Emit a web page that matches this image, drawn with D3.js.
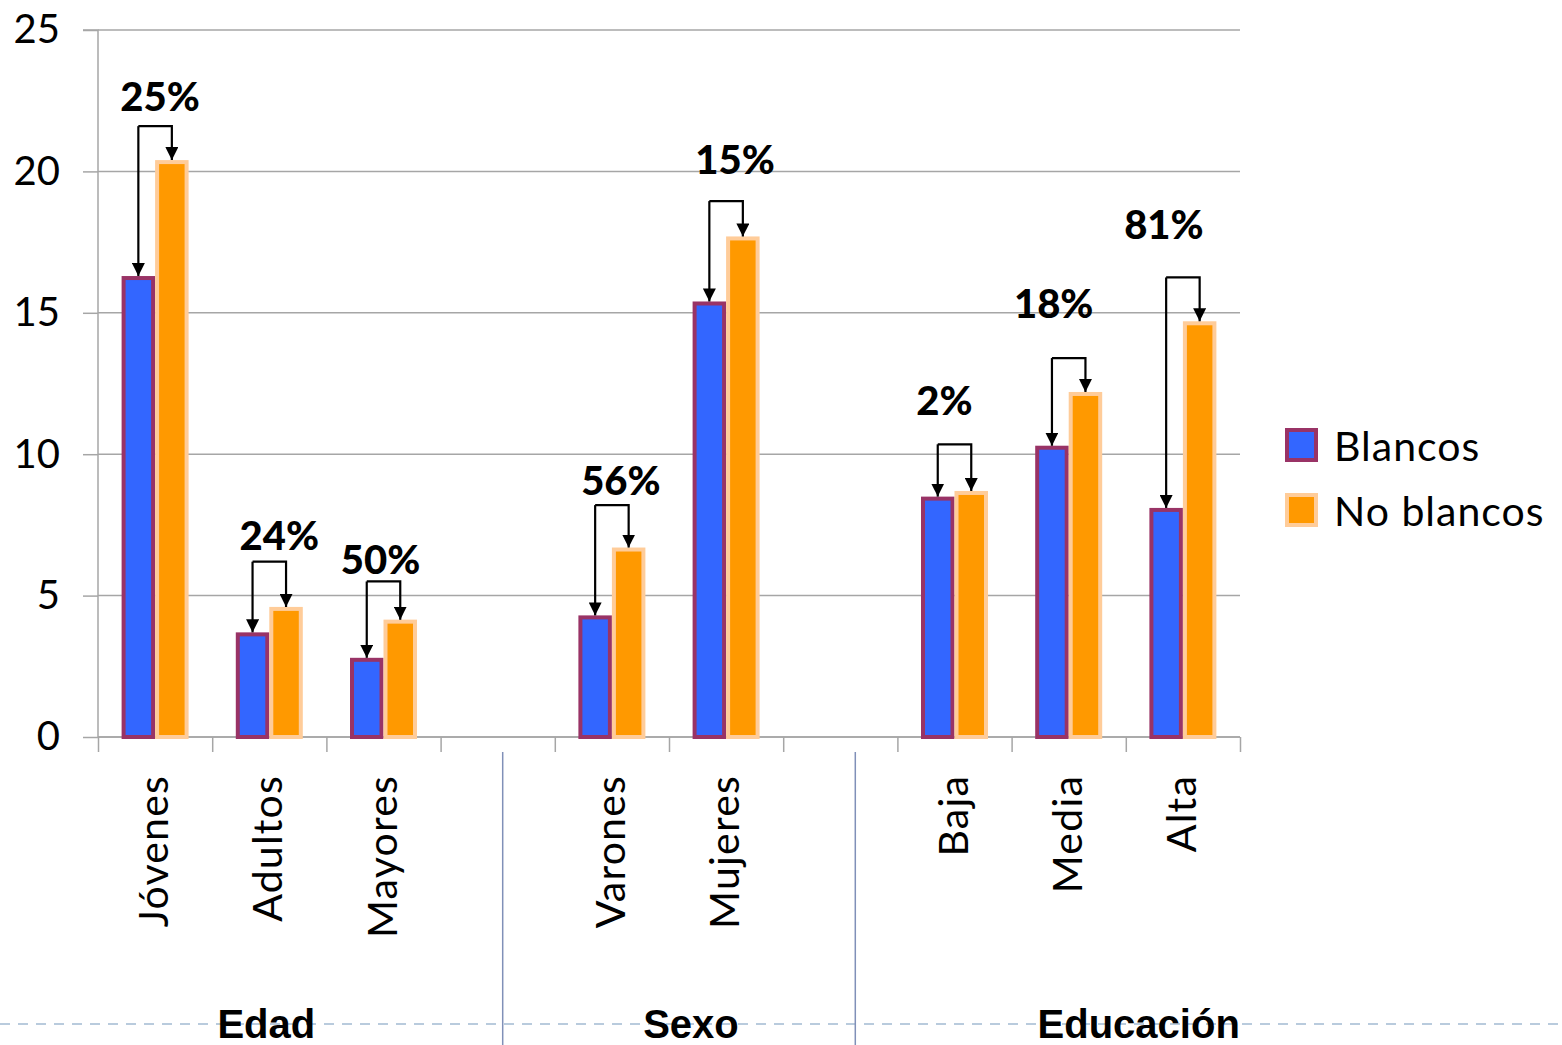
<!DOCTYPE html>
<html>
<head>
<meta charset="utf-8">
<script src="https://cdn.jsdelivr.net/npm/d3@7"></script>
<style>
  body { margin: 0; background: #fff; }
  svg { display: block; }
</style>
</head>
<body>
<svg id="chart" width="1562" height="1045"></svg>
<script>
// categories in plot order ('' marks an empty slot between groups)
const categories = ['Jóvenes', 'Adultos', 'Mayores', '', 'Varones', 'Mujeres', '', 'Baja', 'Media', 'Alta'];
const blancos    = [16.3, 3.7, 2.8, null, 4.3, 15.4, null, 8.5, 10.3, 8.1];
const noBlancos  = [20.4, 4.6, 4.15, null, 6.7, 17.7, null, 8.7, 12.2, 14.7];
const gapLabels  = ['25%', '24%', '50%', null, '56%', '15%', null, '2%', '18%', '81%'];
// height (in chart units) of each bracket and of its label baseline
const bracketLevel = [21.6, 6.2, 5.5, null, 8.2, 18.95, null, 10.35, 13.4, 16.25];
const labelLevel   = [22.15, 6.6, 5.75, null, 8.55, 19.9, null, 11.4, 14.8, 17.6];
const groups = [
  { name: 'Edad', first: 0, last: 2 },
  { name: 'Sexo', first: 4, last: 5 },
  { name: 'Educación', first: 7, last: 9 }
];
const seriesNames = ['Blancos', 'No blancos'];
const yTicks = [0, 5, 10, 15, 20, 25];

const svg = d3.select('#chart');
const plot = { left: 98, right: 1240, top: 30, bottom: 737 };
const font = 'Lato, "Gill Sans", "Noto Sans", sans-serif';

// hand placed nudges of the text boxes (px)
const labelNudge = [5, 10, -3, 0, 9, 9, 0, -10, -15, -19];
const groupNudge = [-3, 22, 70];

// scales
const keys = categories.map((c, i) => i);
const x = d3.scaleBand().domain(keys).range([plot.left, plot.right]).paddingInner(0).paddingOuter(0);
const slot = d3.scaleLinear().domain([0, categories.length]).range([plot.left, plot.right]);
const y = d3.scaleLinear().domain([0, 25]).range([plot.bottom, plot.top]);
const colors = { fill: ['#3366ff', '#ff9900'], stroke: ['#993366', '#ffcc99'] };
const barW = 33.5;

// gridlines
svg.append('g')
  .selectAll('line')
  .data(yTicks)
  .join('line')
  .attr('x1', plot.left).attr('x2', plot.right)
  .attr('y1', d => y(d)).attr('y2', d => y(d))
  .attr('stroke', '#a6a6a6')
  .attr('stroke-width', 1.5);

// y axis
const yAxis = svg.append('g')
  .attr('transform', `translate(${plot.left},0)`)
  .call(d3.axisLeft(y).tickValues(yTicks).tickSize(15).tickPadding(23).tickFormat(d3.format('d')));
yAxis.select('.domain').attr('stroke', '#a6a6a6').attr('stroke-width', 1.5).attr('d', `M-15,${plot.top}H0V${plot.bottom}`);
yAxis.selectAll('.tick line').attr('stroke', '#a6a6a6').attr('stroke-width', 1.5);
yAxis.selectAll('.tick text')
  .style('font-family', font)
  .style('font-size', '40px')
  .attr('fill', '#000');

// x axis ticks at slot boundaries
const xAxis = svg.append('g')
  .attr('transform', `translate(0,${plot.bottom})`)
  .call(d3.axisBottom(slot).tickValues(d3.range(categories.length + 1)).tickSize(15).tickFormat(''));
xAxis.select('.domain').attr('stroke', '#a6a6a6').attr('stroke-width', 1.5).attr('d', `M${plot.left},0H${plot.right}`);
xAxis.selectAll('.tick line').attr('stroke', '#a6a6a6').attr('stroke-width', 1.5);

// bars
const rows = keys.filter(i => blancos[i] !== null).map(i => ({ i, vals: [blancos[i], noBlancos[i]] }));
const barX = (i, s) => x(i) + x.bandwidth() / 2 - barW + s * barW;

const barGroups = svg.append('g')
  .selectAll('g')
  .data(rows)
  .join('g');

barGroups.selectAll('rect')
  .data(d => d.vals.map((v, s) => ({ i: d.i, v, s })))
  .join('rect')
  .attr('x', d => barX(d.i, d.s) + 2)
  .attr('y', d => y(d.v) + 2)
  .attr('width', barW - 4)
  .attr('height', d => y(0) - y(d.v) - 2)
  .attr('fill', d => colors.fill[d.s])
  .attr('stroke', d => colors.stroke[d.s])
  .attr('stroke-width', 4);

// brackets with arrows
svg.append('defs').append('marker')
  .attr('id', 'arrow')
  .attr('viewBox', '0 0 12 12')
  .attr('refX', 12).attr('refY', 6)
  .attr('markerWidth', 13).attr('markerHeight', 13)
  .attr('markerUnits', 'userSpaceOnUse')
  .attr('orient', 'auto')
  .append('path')
  .attr('d', 'M0,0L12,6L0,12Z')
  .attr('fill', '#000');

const brackets = svg.append('g')
  .selectAll('g')
  .data(rows)
  .join('g');

brackets.append('path')
  .attr('d', d => {
    const x0 = barX(d.i, 0) + barW / 2;
    const top = y(bracketLevel[d.i]);
    return `M${x0},${top}V${y(blancos[d.i])}`;
  })
  .attr('fill', 'none')
  .attr('stroke', '#000')
  .attr('stroke-width', 2.2)
  .attr('marker-end', 'url(#arrow)');

brackets.append('path')
  .attr('d', d => {
    const x0 = barX(d.i, 0) + barW / 2;
    const x1 = barX(d.i, 1) + barW / 2;
    const top = y(bracketLevel[d.i]);
    return `M${x0},${top}H${x1}V${y(noBlancos[d.i])}`;
  })
  .attr('fill', 'none')
  .attr('stroke', '#000')
  .attr('stroke-width', 2.2)
  .attr('marker-end', 'url(#arrow)');

brackets.append('text')
  .attr('x', d => x(d.i) + x.bandwidth() / 2 + labelNudge[d.i])
  .attr('y', d => y(labelLevel[d.i]))
  .attr('text-anchor', 'middle')
  .style('font-family', font)
  .style('font-weight', 900)
  .style('font-size', '40px')
  .text(d => gapLabels[d.i]);

// category labels, rotated
svg.append('g')
  .selectAll('text')
  .data(keys.filter(i => categories[i] !== ''))
  .join('text')
  .attr('transform', i => `translate(${x(i) + x.bandwidth() / 2 + 13},775) rotate(-90)`)
  .attr('text-anchor', 'end')
  .style('font-family', font)
  .style('font-size', '41px')
  .style('letter-spacing', '1.2px')
  .text(i => categories[i]);

// bottom dashed line and group dividers
svg.append('line')
  .attr('x1', 0).attr('x2', 1562)
  .attr('y1', 1024).attr('y2', 1024)
  .attr('stroke', '#a3bad2')
  .attr('stroke-width', 1.5)
  .attr('stroke-dasharray', '10,8');

const dividerX = [x(3) + x.bandwidth() / 2 + 5, x(6) + x.bandwidth() / 2 + 15];
svg.append('g')
  .selectAll('line')
  .data(dividerX)
  .join('line')
  .attr('x1', d => d).attr('x2', d => d)
  .attr('y1', 752).attr('y2', 1045)
  .attr('stroke', '#8090b8')
  .attr('stroke-width', 1.5);

// group labels
svg.append('g')
  .selectAll('text')
  .data(groups)
  .join('text')
  .attr('x', (g, k) => (slot(g.first) + slot(g.last + 1)) / 2 + groupNudge[k])
  .attr('y', 1038)
  .attr('text-anchor', 'middle')
  .style('font-family', '"Liberation Sans", Arial, sans-serif')
  .style('font-weight', 'bold')
  .style('font-size', '40px')
  .text(g => g.name);

// legend
const legend = svg.append('g')
  .selectAll('g')
  .data(seriesNames)
  .join('g')
  .attr('transform', (d, s) => `translate(1287,${430 + s * 65})`);

legend.append('rect')
  .attr('width', 29).attr('height', 30)
  .attr('fill', (d, s) => colors.fill[s])
  .attr('stroke', (d, s) => colors.stroke[s])
  .attr('stroke-width', 4);

legend.append('text')
  .attr('x', 47)
  .attr('y', 31)
  .style('font-family', font)
  .style('font-size', '41px')
  .style('letter-spacing', '1px')
  .text(d => d);
</script>
</body>
</html>
